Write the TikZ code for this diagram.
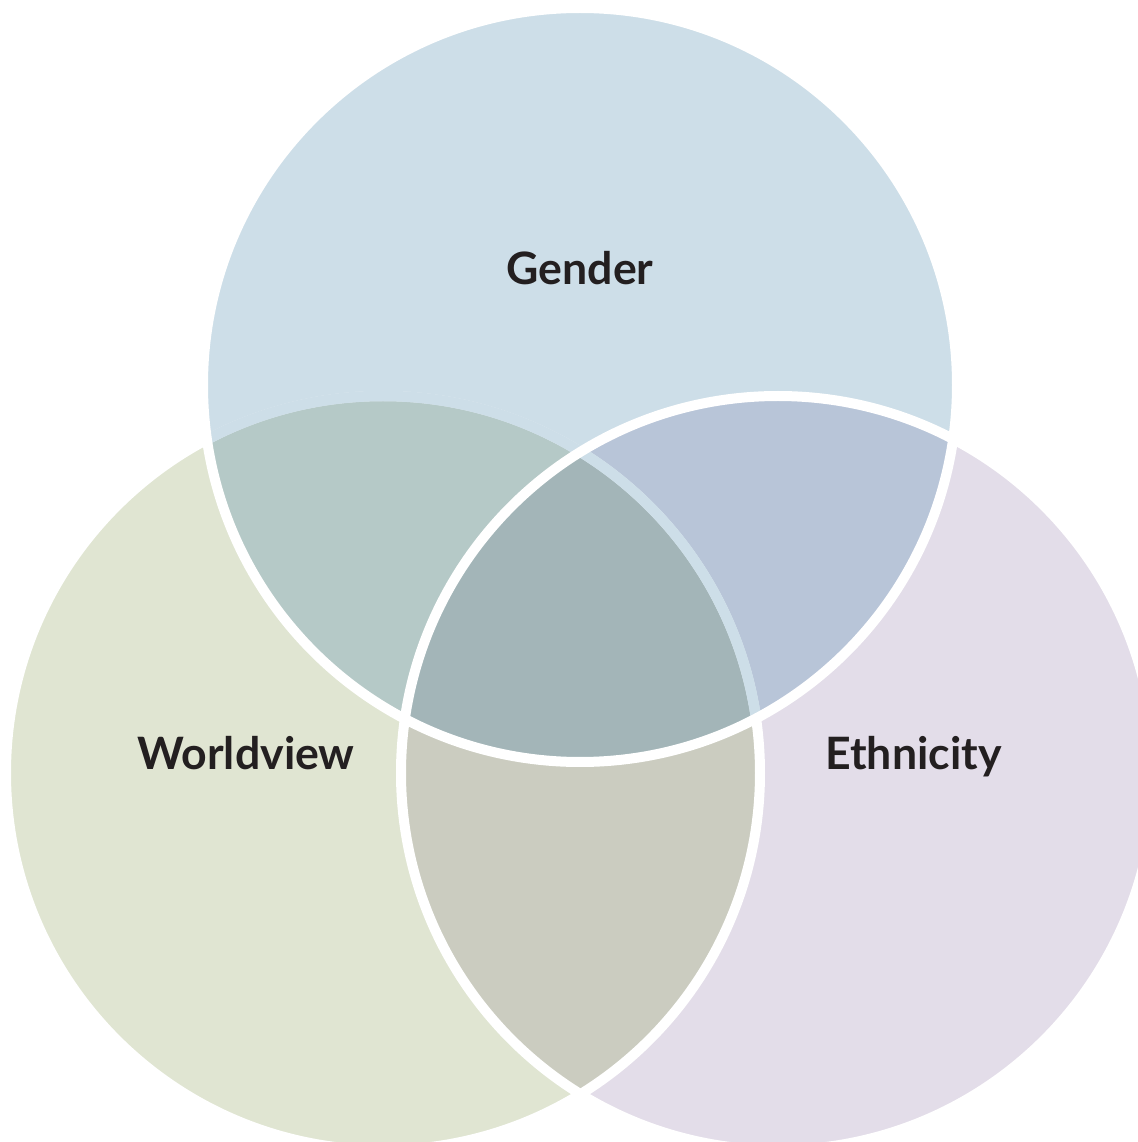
\documentclass[tikz,border=0pt]{standalone}
\usepackage{fontspec}
\setmainfont{Lato}
\usepackage{tikz}
\definecolor{G}{RGB}{205,222,232}
\definecolor{W}{RGB}{224,229,210}
\definecolor{E}{RGB}{227,221,233}
\definecolor{GW}{RGB}{181,201,199}
\definecolor{GE}{RGB}{184,197,216}
\definecolor{WE}{RGB}{203,204,192}
\definecolor{GWE}{RGB}{163,181,184}
\definecolor{ink}{RGB}{35,31,32}
\newcommand{\circG}{(5.80,7.57) circle (3.77)}
\newcommand{\circW}{(3.83,3.69) circle (3.77)}
\newcommand{\circE}{(7.78,3.69) circle (3.77)}
\newcommand{\drawwhite}{\draw[white, line width=1mm]}
\tikzset{setname/.style={text=ink, font=\fontsize{12.7}{15}\selectfont\bfseries, anchor=base, inner sep=0pt}}

\begin{document}
\begin{tikzpicture}
\useasboundingbox (0,0) rectangle (11.38,11.42);
\clip (0,0) rectangle (11.38,11.42);
% plain circles
\fill[W] \circW;
\fill[E] \circE;
\fill[G] \circG;
% overlaps
\begin{scope}
    \clip \circG;
    \fill[GW] \circW;
    \fill[GE] \circE;
\end{scope}
\begin{scope}
    \clip \circW;
    \fill[WE] \circE;
    \clip \circG;
    \fill[GWE] \circE;
\end{scope}
% outlines
\drawwhite \circW;
\begin{scope}
    \clip \circG;
    \draw[G, line width=1.05mm] \circW;
\end{scope}
\drawwhite \circG;
\drawwhite \circE;
\node[setname] (gender) at (5.80,8.57) {Gender};
\node[setname] (worldview) at (2.46,3.72) {Worldview};
\node[setname] (ethnicity) at (9.135,3.72) {Ethnicity};
\end{tikzpicture}
\end{document}
